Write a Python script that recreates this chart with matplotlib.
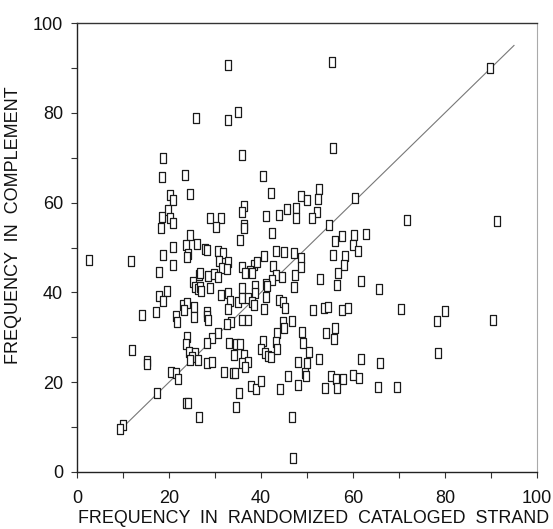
import matplotlib
matplotlib.use("Agg")
import matplotlib.pyplot as plt
from matplotlib.path import Path
import numpy as np

plt.rcParams['font.family'] = ['Liberation Sans', 'DejaVu Sans']

# (x, y) = (frequency in randomized cataloged strand, frequency in complement)
x_vals = [
    25.9, 18.7, 32.8, 32.8, 35.0, 35.9, 55.4, 55.7, 89.8,
    18.5, 23.5, 20.2, 20.9, 24.6, 19.8, 18.5, 20.2, 20.9, 18.3, 24.6, 20.9, 23.7, 26.1,
    18.7, 24.1, 23.9, 2.6, 11.7, 20.9, 17.8, 26.5, 25.2, 25.7, 26.3, 19.6, 17.8, 18.7,
    23.0, 23.9, 23.3, 25.4, 14.1, 17.2, 21.5, 21.7, 25.4,
    23.9, 23.7, 12.0, 24.3, 25.7, 25.0, 15.2, 15.2, 24.6, 20.4, 21.5, 22.0, 17.4, 23.7,
    24.1, 26.5, 10.0, 9.3,
    40.4, 42.2, 48.7, 36.3, 35.9, 28.9, 31.3, 30.2, 41.1, 43.9, 45.7, 47.6, 47.6, 36.3,
    36.3, 42.4, 35.4, 27.8, 28.3, 30.7, 43.3, 45.0, 47.2, 40.7, 31.7, 30.9, 32.8, 48.7,
    38.5, 39.1, 31.5, 32.6, 35.9, 37.6, 42.6, 36.5, 38.0, 26.7, 28.5, 29.8, 30.7, 43.3,
    44.6, 47.4, 48.7, 42.4, 41.1, 41.3, 26.7, 28.9, 27.0, 35.9, 38.7, 47.2, 31.3, 32.8,
    33.3, 35.0, 35.9, 37.2, 38.7, 38.0, 41.1, 43.9, 44.8, 32.8, 38.5, 40.7, 45.2, 28.3,
    28.3, 28.5, 33.5, 35.9, 37.2, 44.8, 46.7,
    52.6, 50.0, 52.4, 60.4, 52.2, 51.1, 54.8, 71.7, 56.1, 57.6, 60.2, 62.8, 60.0, 61.1,
    55.7, 58.3, 58.0, 56.7, 52.8, 61.7, 56.5, 65.7, 51.3, 53.7, 54.6, 57.6, 58.9, 70.4,
    91.3, 80.0, 78.3, 90.4,
    32.6, 30.7, 29.3, 28.3, 26.3, 28.3, 29.3, 33.0, 34.6, 35.4, 34.1, 36.3, 35.9, 37.2,
    36.5, 32.0, 33.9, 34.3, 37.8, 38.9, 40.0, 35.2, 34.6, 40.4, 40.0, 40.9, 41.5, 42.2,
    43.5, 43.3, 43.5, 45.0, 48.9, 49.1, 48.0, 49.6, 45.9, 48.0, 44.1, 46.7, 47.0,
    54.1, 56.1, 55.9, 50.4, 50.0, 52.6, 61.7, 65.9, 49.8, 55.2, 56.3, 57.8, 60.0, 61.3,
    53.9, 56.5, 65.4, 69.6, 78.5,
]
y_vals = [
    78.8, 69.9, 90.6, 78.4, 80.2, 70.6, 91.3, 72.2, 90.0,
    65.7, 66.1, 61.7, 60.6, 61.9, 58.4, 56.8, 56.6, 55.5, 54.3, 52.8, 50.1, 50.6, 50.8,
    48.3, 48.6, 47.9, 47.2, 47.0, 46.1, 44.5, 43.9, 42.3, 41.2, 40.8, 40.3, 39.2, 38.1,
    37.2, 37.6, 36.1, 36.7, 35.0, 35.6, 34.7, 33.4, 34.5,
    30.0, 28.5, 27.2, 26.7, 26.5, 25.6, 24.7, 24.0, 24.9, 22.3, 22.0, 20.7, 17.6, 15.4,
    15.4, 12.2, 10.5, 9.6,
    65.9, 62.1, 61.5, 59.2, 57.9, 56.6, 56.6, 54.6, 57.0, 57.2, 58.6, 58.8, 56.6, 55.0,
    54.3, 53.2, 51.7, 49.7, 49.4, 49.2, 49.2, 49.0, 48.8, 48.1, 48.8, 47.0, 46.8, 47.7,
    46.1, 46.8, 45.4, 45.2, 45.7, 44.8, 45.9, 44.3, 44.3, 44.3, 43.7, 44.1, 43.4, 43.9,
    43.4, 43.9, 45.7, 42.8, 41.9, 41.4, 41.2, 41.0, 40.3, 41.0, 41.4, 41.2, 39.4, 39.9,
    38.1, 37.9, 38.8, 38.8, 39.9, 37.9, 39.0, 38.3, 37.9, 36.3, 37.2, 36.3, 36.5, 35.6,
    34.7, 33.9, 33.4, 33.9, 33.9, 33.4, 33.6,
    63.0, 60.6, 60.8, 61.0, 57.9, 56.6, 55.0, 56.1, 51.4, 52.6, 52.8, 53.0, 50.6, 49.2,
    48.3, 48.1, 46.1, 44.3, 43.0, 42.5, 41.6, 40.8, 36.1, 36.5, 36.7, 36.1, 36.5, 36.3,
    55.9, 35.9, 33.6, 33.9,
    33.0, 31.0, 29.8, 28.7, 25.0, 24.3, 24.5, 28.7, 28.5, 28.5, 26.1, 26.1, 24.3, 24.5,
    23.4, 22.3, 22.0, 22.0, 19.2, 18.5, 20.3, 17.6, 14.5, 29.2, 27.4, 26.5, 25.8, 25.6,
    31.0, 29.0, 27.4, 32.0, 31.2, 28.7, 24.5, 22.0, 21.4, 19.4, 18.5, 12.2, 3.1,
    31.0, 32.0, 29.6, 26.7, 24.3, 25.2, 25.2, 24.3, 21.4, 21.4, 20.7, 20.7, 21.6, 20.9,
    18.7, 18.7, 18.9, 18.9, 26.5,
]
line_x = [9.3, 95.0]
line_y = [9.3, 95.0]

x_ticks = list(range(0, 101, 10))
x_ticklabels = ['0', '', '20', '', '40', '', '60', '', '80', '', '100']
y_ticks = list(range(0, 101, 10))
y_ticklabels = ['0', '', '20', '', '40', '', '60', '', '80', '', '100']

fig = plt.figure(figsize=(5.53, 5.29), dpi=100)
ax = fig.add_axes([77/553, 1-472/529, 460/553, 449/529])

box = Path([(-0.36, -0.5), (0.36, -0.5), (0.36, 0.5), (-0.36, 0.5), (-0.36, -0.5)],
           [Path.MOVETO, Path.LINETO, Path.LINETO, Path.LINETO, Path.CLOSEPOLY])

ax.plot(line_x, line_y, color='#777777', lw=0.8, zorder=1)
ax.plot(x_vals, y_vals, linestyle='none', marker=box, markersize=6.5,
        markerfacecolor='white', markeredgecolor='#1a1a1a', markeredgewidth=0.9, zorder=2)

ax.set_xlim(0, 100)
ax.set_ylim(0, 100)
ax.set_xticks(x_ticks)
ax.set_xticklabels(x_ticklabels)
ax.set_yticks(y_ticks)
ax.set_yticklabels(y_ticklabels)
ax.tick_params(direction='out', length=4, width=0.8, labelsize=13, pad=9,
               color='#333333', labelcolor='#111111')
ax.tick_params(axis='y', pad=6)

for s in ['left', 'bottom']:
    ax.spines[s].set_color('#222222')
    ax.spines[s].set_linewidth(1.0)
ax.spines['top'].set_color('#333333')
ax.spines['top'].set_linewidth(1.0)
ax.spines['right'].set_color('#aaaaaa')
ax.spines['right'].set_linewidth(0.8)

ax.set_xlabel('FREQUENCY  IN  RANDOMIZED  CATALOGED  STRAND', fontsize=12.9,
              color='#111111')
ax.xaxis.set_label_coords(0.515, -0.085)
ax.set_ylabel('FREQUENCY  IN  COMPLEMENT', fontsize=13, color='#111111')
ax.yaxis.set_label_coords(-0.12, 0.55)

fig.savefig('out.png', dpi=100)
